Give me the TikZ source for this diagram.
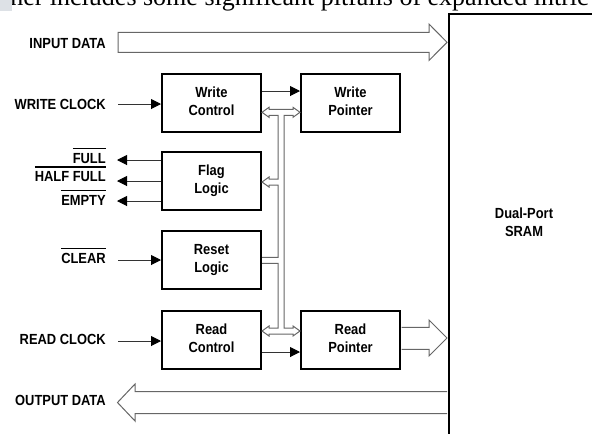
\documentclass[tikz,border=0pt]{standalone}
\usepackage{fontspec}
\usetikzlibrary{arrows.meta}
\newfontfamily\narr[FakeStretch=0.88]{Liberation Sans}
\newfontfamily\serifx{Liberation Serif}
\newcommand\ovl[1]{\vbox{\hrule height 1.1pt\kern 2.8pt\hbox{#1}}}
\newcommand\lblfont{\narr\bfseries\fontsize{11}{13.7}\selectfont}
\definecolor{holc}{gray}{0.4}
\definecolor{blobc}{HTML}{DDE1E6}
\tikzset{
  box/.style={draw=black, line width=1.5pt, minimum width=74.25pt, minimum height=43.5pt,
    inner sep=0pt, align=center, font=\lblfont, text depth=2.3pt},
  lbl/.style={anchor=base east, inner sep=0pt, font=\lblfont},
  conn/.style={draw=black!80, line width=0.75pt, -{Triangle[length=7.5pt,width=7.5pt,fill=black,color=black]}},
  hol/.style={draw=holc, line width=0.75pt, line join=miter},
}
\begin{document}
\begin{tikzpicture}[x=0.75pt,y=-0.75pt]
\useasboundingbox (0,0) rectangle (592,433);
\clip (0,0) rectangle (592,433);

% clipped running text at the top
\node[anchor=base west, inner sep=0pt, font=\serifx\fontsize{19.5}{20}\selectfont] (ctx) at (10,5.8) {ner includes some significant pitfalls of expanded intric};
\fill[blobc] (0,0) rectangle (12,11);

% SRAM
\node[draw, line width=1.5pt, minimum width=150pt, minimum height=340pt, anchor=north west, inner sep=0pt] (sram) at (448,13) {};
\node[font=\lblfont, align=center] (sramt) at (524,222) {Dual-Port\\SRAM};

% labels
\node[lbl] (indata) at (106,48.5) {INPUT DATA};
\node[lbl] (wclk) at (106,109.3) {WRITE CLOCK};
\node[lbl] (full) at (106,163) {\ovl{FULL}};
\node[lbl] (hfull) at (106,181.5) {\ovl{HALF FULL}};
\node[lbl] (empty) at (106,205.3) {\ovl{EMPTY}};
\node[lbl] (clear) at (106,263.3) {\ovl{CLEAR}};
\node[lbl] (rclk) at (106,344.3) {READ CLOCK};
\node[lbl] (outdata) at (106,405) {OUTPUT DATA};

% blocks
\node[box] (wc) at (211.5,103) {Write\\Control};
\node[box] (wp) at (350.5,103) {Write\\Pointer};
\node[box] (fl) at (211.5,181) {Flag\\Logic};
\node[box] (rl) at (211.5,260) {Reset\\Logic};
\node[box] (rc) at (211.5,340) {Read\\Control};
\node[box] (rp) at (350.5,340) {Read\\Pointer};

% wide data arrows
\draw[hol, fill=white] (118,32.3) -- (429,32.3) -- (429,24) -- (447,42.3) -- (429,60.5) -- (429,52.3) -- (118,52.3) -- cycle;
\draw[hol] (447,391.5) -- (135,391.5) -- (135,384) -- (117.5,402.5) -- (135,421) -- (135,413.5) -- (447,413.5);
\draw[hol] (401.5,327.3) -- (429,327.3) -- (429,320) -- (447,338) -- (429,356) -- (429,349.3) -- (401.5,349.3);

% control connectors
\coordinate (wclkS) at (118,104);
\draw[conn] (wclkS) -- (wclkS -| wc.west);
\draw[conn] ([yshift=9pt]wc.east) -- ([yshift=9pt]wp.west);
\coordinate (o1) at (117,160);
\coordinate (o2) at (117,181);
\coordinate (o3) at (117,201);
\draw[conn] (o1 -| fl.west) -- (o1);
\draw[conn] (o2 -| fl.west) -- (o2);
\draw[conn] (o3 -| fl.west) -- (o3);
\coordinate (clrS) at (118,260);
\draw[conn] (clrS) -- (clrS -| rl.west);
\coordinate (rclkS) at (118,341);
\draw[conn] (rclkS) -- (rclkS -| rc.west);
\draw[conn] ([yshift=-9pt]rc.east) -- ([yshift=-9pt]rp.west);

% hollow bus (double-line outline), one open path from the Reset Logic edge round and back
\draw[hol] (262,263.3) -- (278,263.3) -- (278,328) -- (269,328) -- (269,326) -- (262,331) -- (269,336) -- (269,334)
  -- (293,334) -- (293,336) -- (300,331) -- (293,326) -- (293,328) -- (284,328) -- (284,115.3) -- (293,115.3)
  -- (293,117.3) -- (300,112.3) -- (293,107.3) -- (293,109.3) -- (269,109.3) -- (269,107.3) -- (262,112.3)
  -- (269,117.3) -- (269,115.3) -- (278,115.3) -- (278,179) -- (269,179) -- (269,177) -- (262,182) -- (269,187)
  -- (269,185) -- (278,185) -- (278,257.3) -- (262,257.3);
\end{tikzpicture}
\end{document}
